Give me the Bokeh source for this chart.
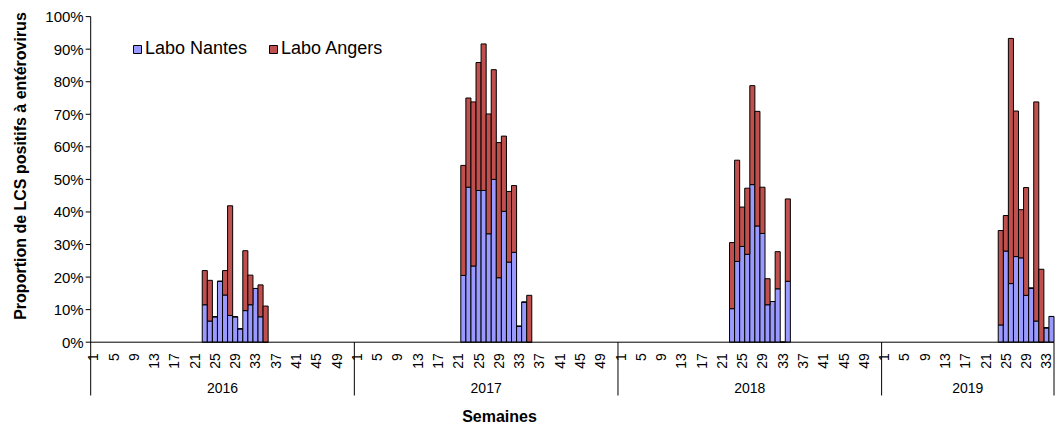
import numpy as np
from bokeh.plotting import figure
from bokeh.models import Range1d, ColumnDataSource
from bokeh.core.properties import value
from bokeh.embed import file_html
from bokeh.resources import INLINE

# ---------------- data ----------------
years = ["2016", "2017", "2018", "2019"]
weeks_per_year = [52, 52, 52, 34]
tick_step = 4  # week labels 1, 5, 9, ...
y_ticks = [0, 10, 20, 30, 40, 50, 60, 70, 80, 90, 100]

weeks_2016 = [23, 24, 25, 26, 27, 28, 29, 30, 31, 32, 33, 34, 35]
nantes_2016 = [11.5, 6.5, 7.8, 18.7, 14.5, 8.2, 7.8, 4.1, 9.7, 11.5, 16.5, 7.8, 0]
angers_2016 = [10.5, 12.5, 0, 0, 7.5, 33.7, 0, 0, 18.4, 9.1, 0, 9.8, 11.1]

weeks_2017 = [22, 23, 24, 25, 26, 27, 28, 29, 30, 31, 32, 33, 34, 35]
nantes_2017 = [20.5, 47.6, 23.4, 46.6, 46.6, 33.3, 50.0, 19.8, 40.2, 24.6, 27.6, 4.9, 12.3, 0]
angers_2017 = [33.8, 27.4, 50.4, 39.3, 45.0, 36.8, 33.7, 41.5, 23.1, 21.7, 20.5, 0, 0, 14.4]

weeks_2018 = [23, 24, 25, 26, 27, 28, 29, 30, 31, 32, 33, 34]
nantes_2018 = [10.3, 24.8, 29.4, 27.0, 48.4, 35.7, 33.4, 11.5, 12.5, 16.4, 0, 18.7]
angers_2018 = [20.3, 31.1, 12.1, 20.3, 30.4, 35.2, 14.2, 8.0, 0, 11.4, 0, 25.3]

weeks_2019 = [24, 25, 26, 27, 28, 29, 30, 31, 32, 33, 34]
nantes_2019 = [5.3, 28.0, 18.0, 26.3, 25.9, 14.4, 16.6, 6.5, 0, 4.4, 7.9]
angers_2019 = [29.0, 10.9, 75.3, 44.7, 14.8, 33.1, 0, 67.3, 22.4, 0, 0]

series_names = ["Labo Nantes", "Labo Angers"]
colors = ["#9999FF", "#C0504D"]
y_title = "Proportion de LCS positifs à entérovirus"
x_title = "Semaines"

# ---------------- layout (pixels) ----------------
W, H = 1055, 423
PX_X = 5.07          # px per week
PX_Y = 3.256         # px per percent
ORIGIN_X = 90.2      # page x of the category axis start
ORIGIN_Y = 341.7     # page y of 0 %

def dx(px):  # pixel distance -> x data units
    return px / PX_X

def dy(px):
    return px / PX_Y

x_start = -dx(ORIGIN_X)
y_end = dy(ORIGIN_Y)

# ---------------- build ----------------
offsets = np.concatenate([[0], np.cumsum(weeks_per_year)[:-1]])
total = int(np.sum(weeks_per_year))

all_weeks = [weeks_2016, weeks_2017, weeks_2018, weeks_2019]
all_n = [nantes_2016, nantes_2017, nantes_2018, nantes_2019]
all_a = [angers_2016, angers_2017, angers_2018, angers_2019]

xs, ns, as_ = [], [], []
for off, wk, n, a in zip(offsets, all_weeks, all_n, all_a):
    for w, vn, va in zip(wk, n, a):
        xs.append(off + w - 0.5)
        ns.append(vn)
        as_.append(va)
src = ColumnDataSource(dict(x=xs, nantes=ns, angers=as_))

FONT = value("Liberation Sans")

p = figure(width=W, height=H, output_backend="svg", toolbar_location=None,
           x_range=Range1d(x_start, x_start + dx(W)),
           y_range=Range1d(y_end - dy(H), y_end),
           min_border_left=0, min_border_right=0, min_border_top=0, min_border_bottom=0)
p.outline_line_color = None
p.xgrid.visible = False
p.ygrid.visible = False
p.xaxis.visible = False
p.yaxis.visible = False

p.vbar_stack(["nantes", "angers"], x="x", width=1, source=src, color=colors,
             line_color="black", line_width=1, legend_label=series_names)

# axis lines & year separators
sep_bottom = -dy(395 - ORIGIN_Y)
bounds = list(offsets) + [total]
p.segment(x0=bounds, y0=[100] + [0] * (len(bounds) - 1), x1=bounds,
          y1=[sep_bottom] * len(bounds), line_color="black", line_width=1)
p.segment(x0=[0], y0=[0], x1=[total], y1=[0], line_color="black", line_width=1)

# y ticks and labels
p.segment(x0=[-dx(5)] * len(y_ticks), y0=y_ticks, x1=[0] * len(y_ticks), y1=y_ticks,
          line_color="black", line_width=1)
p.text(x=[-dx(7)] * len(y_ticks), y=y_ticks, text=[f"{t}%" for t in y_ticks],
       text_align="right", text_baseline="middle", text_font=FONT,
       text_font_size="15px", text_color="black")

# y title
p.text(x=[-dx(ORIGIN_X - 19.5)], y=[dy(ORIGIN_Y - 165.5)], text=[y_title], angle=np.pi / 2,
       text_align="center", text_baseline="middle", text_font=FONT,
       text_font_size="16px", text_font_style="bold", text_color="black")

# week labels
tx, tt = [], []
for off, nw in zip(offsets, weeks_per_year):
    for w in range(1, nw + 1, tick_step):
        tx.append(off + w - 0.5)
        tt.append(str(w))
p.text(x=tx, y=[-dy(11)] * len(tx), text=tt, angle=np.pi / 2, text_align="right",
       text_baseline="middle", text_font=FONT, text_font_size="14px", text_color="black")

# year labels
yc = [off + nw / 2 for off, nw in zip(offsets, weeks_per_year)]
p.text(x=yc, y=[-dy(387 - ORIGIN_Y)] * len(yc), text=years, text_align="center",
       text_baseline="middle", text_font=FONT, text_font_size="14px", text_color="black")

# x title
p.text(x=[dx(499 - ORIGIN_X)], y=[-dy(415.5 - ORIGIN_Y)], text=[x_title], text_align="center",
       text_baseline="middle", text_font=FONT, text_font_size="16px",
       text_font_style="bold", text_color="black")

lg = p.legend[0]
lg.location = (132, 364)
lg.orientation = "horizontal"
lg.background_fill_alpha = 0
lg.border_line_color = None
lg.glyph_width = 10
lg.glyph_height = 10
lg.label_text_font = "Liberation Sans"
lg.label_text_font_size = "18px"
lg.label_text_color = "black"
lg.label_standoff = 3
lg.spacing = 21
lg.padding = 0
lg.margin = 0

open("out.html", "w").write(file_html(p, INLINE))
